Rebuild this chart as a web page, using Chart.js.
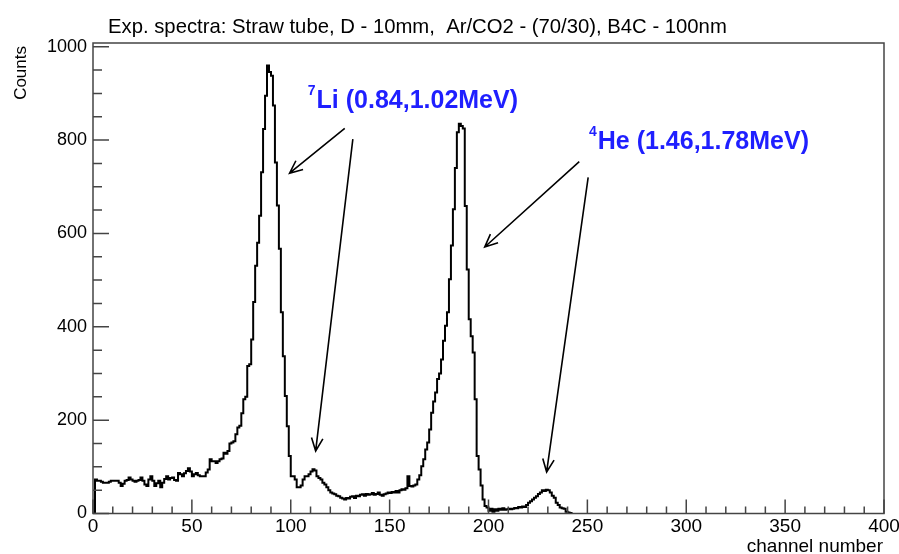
<!DOCTYPE html>
<html>
<head>
<meta charset="utf-8">
<script src="https://cdn.jsdelivr.net/npm/chart.js@4/dist/chart.umd.min.js"></script>
<style>
  body { margin: 0; background: #fff; }
  #wrap { width: 899px; height: 554px; }
</style>
</head>
<body>
<div id="wrap"><canvas id="myChart"></canvas></div>
<script>
// counts per channel, channel 0..241 (everything above is empty)
const counts = [
    0, 73, 70, 70, 68, 66, 66, 66, 68, 70,
    70, 70, 70, 66, 59, 64, 70, 72, 77, 73,
    70, 68, 70, 72, 77, 70, 62, 59, 73, 80,
    70, 59, 65, 70, 56, 66, 74, 80, 73, 76,
    77, 72, 70, 87, 84, 80, 86, 91, 97, 90,
    80, 84, 87, 82, 80, 80, 80, 88, 94, 116,
    112, 112, 108, 112, 116, 118, 130, 128, 134, 150,
    152, 155, 170, 184, 188, 215, 245, 250, 316, 320,
    373, 453, 531, 580, 638, 731, 824, 895, 960, 946,
    938, 874, 752, 660, 567, 431, 337, 252, 187, 123,
    80, 80, 73, 56, 56, 60, 73, 80, 80, 84,
    90, 95, 92, 80, 76, 73, 66, 62, 56, 50,
    45, 43, 41, 38, 37, 34, 32, 30, 33, 32,
    36, 37, 33, 38, 37, 40, 41, 38, 42, 40,
    41, 44, 40, 42, 45, 40, 38, 41, 43, 45,
    44, 46, 45, 48, 45, 50, 52, 51, 54, 80,
    59, 58, 60, 62, 73, 82, 101, 116, 137, 152,
    180, 216, 240, 259, 288, 300, 330, 370, 402, 431,
    502, 574, 652, 740, 817, 835, 830, 825, 659, 523,
    416, 380, 345, 245, 123, 94, 60, 30, 16, 13,
    6, 10, 4, 9, 6, 10, 8, 11, 8, 9,
    10, 9, 10, 12, 11, 14, 13, 15, 14, 18,
    23, 26, 30, 34, 37, 42, 45, 50, 48, 51,
    50, 45, 38, 34, 23, 18, 13, 11, 10, 4,
    2, 1
];
const channels = counts.map((c, i) => i);

const xTickValues = [0, 50, 100, 150, 200, 250, 300, 350, 400];
const yTickValues = [0, 200, 400, 600, 800, 1000];
const xMin = 0, xMax = 400;
const yMin = 0, yMax = 1008;
const xMinor = 10, yMinor = 50;

const titleText = 'Exp. spectra: Straw tube, D - 10mm,  Ar/CO2 - (70/30), B4C - 100nm';
const xTitle = 'channel number';
const yTitle = 'Counts';

// labels and arrows, in data units (channel, counts)
const labels = [
    { sup: '7', text: 'Li (0.84,1.02MeV)', x: 108.6, y: 884 },
    { sup: '4', text: 'He (1.46,1.78MeV)', x: 250.8, y: 796 },
];
const arrows = [
    [127.3, 825, 99.4, 729],
    [131.4, 802, 112.6, 134],
    [245.9, 754, 198.1, 571],
    [250.4, 720, 229.4, 89],
];

const FONT = '"Liberation Sans", Arial, Helvetica, sans-serif';

const points = channels.map((ch, i) => ({ x: ch, y: counts[i] }));
points.push({ x: channels.length, y: 0 });

function drawArrow(ctx, x1, y1, x2, y2) {
    const a = Math.atan2(y2 - y1, x2 - x1);
    const len = 14, spread = 0.42;
    ctx.beginPath();
    ctx.moveTo(x1, y1);
    ctx.lineTo(x2, y2);
    ctx.moveTo(x2 - len * Math.cos(a - spread), y2 - len * Math.sin(a - spread));
    ctx.lineTo(x2, y2);
    ctx.lineTo(x2 - len * Math.cos(a + spread), y2 - len * Math.sin(a + spread));
    ctx.stroke();
}

const rootStyle = {
    id: 'rootStyle',
    afterDraw(chart) {
        const ctx = chart.ctx;
        const area = chart.chartArea;
        const xs = chart.scales.x, ys = chart.scales.y;
        ctx.save();

        // frame
        ctx.strokeStyle = '#444';
        ctx.lineWidth = 1.5;
        ctx.strokeRect(area.left, area.top, area.right - area.left, area.bottom - area.top);

        // inward ticks
        ctx.beginPath();
        for (let v = xMin; v <= xMax; v += xMinor) {
            const px = xs.getPixelForValue(v);
            const l = xTickValues.includes(v) ? 14 : 7;
            ctx.moveTo(px, area.bottom);
            ctx.lineTo(px, area.bottom - l);
        }
        for (let v = yMin; v <= 1000; v += yMinor) {
            const py = ys.getPixelForValue(v);
            const l = yTickValues.includes(v) ? 16 : 9;
            ctx.moveTo(area.left, py);
            ctx.lineTo(area.left + l, py);
        }
        ctx.stroke();

        // title and axis titles
        ctx.fillStyle = '#000';
        ctx.font = '20.3px ' + FONT;
        ctx.textBaseline = 'alphabetic';
        ctx.textAlign = 'left';
        ctx.fillText(titleText, 108, 33);

        ctx.font = '19px ' + FONT;
        ctx.textAlign = 'right';
        ctx.fillText(xTitle, 883, 552);

        ctx.save();
        ctx.translate(26, 46);
        ctx.rotate(-Math.PI / 2);
        ctx.textAlign = 'right';
        ctx.font = '17px ' + FONT;
        ctx.fillText(yTitle, 0, 0);
        ctx.restore();

        // annotations
        ctx.fillStyle = '#1f1fff';
        ctx.textAlign = 'left';
        ctx.textBaseline = 'middle';
        labels.forEach(l => {
            const px = xs.getPixelForValue(l.x);
            const py = ys.getPixelForValue(l.y);
            ctx.font = 'bold 14px ' + FONT;
            ctx.fillText(l.sup, px, py - 10);
            const w = ctx.measureText(l.sup).width;
            ctx.font = 'bold 25px ' + FONT;
            ctx.fillText(l.text, px + w + 1, py);
        });

        ctx.strokeStyle = '#000';
        ctx.lineWidth = 1.6;
        arrows.forEach(a => {
            drawArrow(ctx, xs.getPixelForValue(a[0]), ys.getPixelForValue(a[1]),
                xs.getPixelForValue(a[2]), ys.getPixelForValue(a[3]));
        });
        ctx.restore();
    }
};

new Chart('myChart', {
    type: 'line',
    data: {
        datasets: [{
            data: points,
            stepped: true,
            borderColor: '#000',
            borderWidth: 2,
            pointRadius: 0,
            fill: false,
        }]
    },
    options: {
        responsive: true,
        maintainAspectRatio: false,
        animation: false,
        layout: { padding: { top: 43, right: 15, left: 0, bottom: 0 } },
        plugins: {
            legend: { display: false },
            tooltip: { enabled: false },
        },
        scales: {
            x: {
                type: 'linear',
                min: xMin,
                max: xMax,
                grid: { display: false, drawTicks: false },
                border: { display: false },
                afterBuildTicks: (scale) => {
                    scale.ticks = xTickValues.map(v => ({ value: v }));
                },
                ticks: {
                    autoSkip: false,
                    color: '#000',
                    padding: 2,
                    maxRotation: 0,
                    font: { family: FONT, size: 19 },
                    callback: (v) => String(v),
                },
                afterFit: (scale) => {
                    scale.height = 40.5;
                    scale.paddingLeft = 0;
                    scale.paddingRight = 0;
                },
            },
            y: {
                min: yMin,
                max: yMax,
                grid: { display: false, drawTicks: false },
                border: { display: false },
                afterBuildTicks: (scale) => {
                    scale.ticks = yTickValues.map(v => ({ value: v }));
                },
                ticks: {
                    autoSkip: false,
                    color: '#000',
                    padding: 6,
                    font: { family: FONT, size: 18 },
                    callback: (v) => String(v),
                },
                afterFit: (scale) => { scale.width = 93; },
            }
        }
    },
    plugins: [rootStyle]
});
</script>
</body>
</html>
